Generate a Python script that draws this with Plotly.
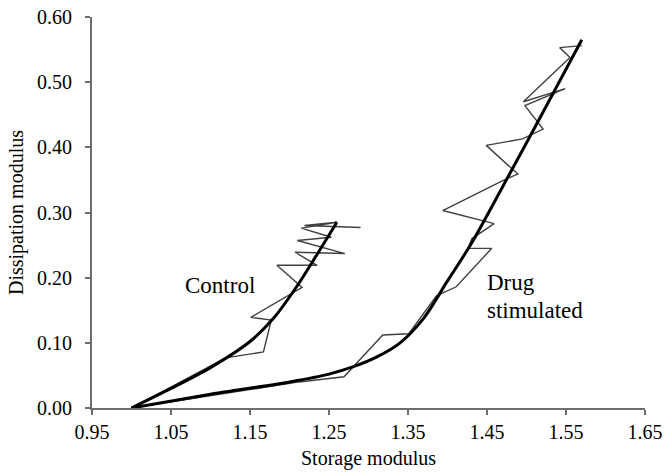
import plotly.graph_objects as go

# Control: raw measurements (thin) and fitted trend (thick)
control_x = [1.00, 1.119, 1.167, 1.177, 1.151, 1.199, 1.216, 1.184, 1.235, 1.207, 1.270, 1.210, 1.253, 1.215, 1.260, 1.219, 1.290]
control_y = [0.000, 0.077, 0.086, 0.135, 0.139, 0.172, 0.185, 0.219, 0.219, 0.239, 0.237, 0.257, 0.262, 0.276, 0.285, 0.280, 0.277]
control_fit_x = [1.00, 1.05, 1.10, 1.15, 1.18, 1.21, 1.235, 1.26]
control_fit_y = [0.000, 0.030, 0.062, 0.102, 0.138, 0.188, 0.236, 0.285]

# Drug stimulated: raw measurements (thin) and fitted trend (thick)
drug_x = [1.00, 1.212, 1.269, 1.318, 1.351, 1.364, 1.386, 1.411, 1.456, 1.426, 1.431, 1.459, 1.443, 1.394, 1.470, 1.489, 1.449, 1.495, 1.521, 1.498, 1.549, 1.496, 1.555, 1.542, 1.570]
drug_y = [0.000, 0.040, 0.048, 0.112, 0.114, 0.135, 0.172, 0.186, 0.245, 0.245, 0.260, 0.283, 0.288, 0.303, 0.349, 0.359, 0.403, 0.413, 0.428, 0.464, 0.490, 0.470, 0.538, 0.553, 0.556]
drug_fit_x = [1.00, 1.10, 1.20, 1.25, 1.28, 1.31, 1.34, 1.37, 1.40, 1.43, 1.47, 1.52, 1.57]
drug_fit_y = [0.000, 0.021, 0.040, 0.052, 0.063, 0.078, 0.100, 0.138, 0.195, 0.252, 0.340, 0.452, 0.565]

x_ticks = [0.95, 1.05, 1.15, 1.25, 1.35, 1.45, 1.55, 1.65]
y_ticks = [0.0, 0.1, 0.2, 0.3, 0.4, 0.5, 0.6]

FONT = "Liberation Serif, Times New Roman, serif"

fig = go.Figure()
fig.add_trace(go.Scatter(x=control_x, y=control_y, mode="lines",
                         line=dict(color="#404040", width=1.4), showlegend=False))
fig.add_trace(go.Scatter(x=drug_x, y=drug_y, mode="lines",
                         line=dict(color="#404040", width=1.4), showlegend=False))
fig.add_trace(go.Scatter(x=control_fit_x, y=control_fit_y, mode="lines",
                         line=dict(color="#000000", width=3, shape="spline", smoothing=0.8),
                         showlegend=False))
fig.add_trace(go.Scatter(x=drug_fit_x, y=drug_fit_y, mode="lines",
                         line=dict(color="#000000", width=3, shape="spline", smoothing=0.8),
                         showlegend=False))

fig.add_annotation(x=1.1126, y=0.188, text="Control", showarrow=False,
                   xanchor="center", yanchor="middle", font=dict(family=FONT, size=23, color="#000"))
fig.add_annotation(x=1.447, y=0.193, text="Drug", showarrow=False,
                   xanchor="left", yanchor="middle", font=dict(family=FONT, size=23, color="#000"))
fig.add_annotation(x=1.447, y=0.150, text="stimulated", showarrow=False,
                   xanchor="left", yanchor="middle", font=dict(family=FONT, size=23, color="#000"))

fig.update_layout(
    width=665, height=476,
    margin=dict(l=92, r=20, t=17, b=68),
    paper_bgcolor="white", plot_bgcolor="white",
    font=dict(family=FONT, size=20, color="#000"),
    xaxis=dict(range=[0.95, 1.65], tickvals=x_ticks, ticktext=[f"{v:.2f}" for v in x_ticks],
               showgrid=False, zeroline=False, showline=True, linecolor="#6e6e6e", linewidth=2,
               ticks="outside", ticklen=5, tickcolor="#6e6e6e", tickwidth=1.5, automargin=False,
               ticklabeloverflow="allow",
               title=dict(text="Storage modulus", font=dict(family=FONT, size=20), standoff=9),
               tickfont=dict(family=FONT, size=20)),
    yaxis=dict(range=[0, 0.6], tickvals=y_ticks, ticktext=[f"{v:.2f}" for v in y_ticks],
               showgrid=False, zeroline=False, showline=True, linecolor="#6e6e6e", linewidth=2,
               ticks="outside", ticklen=5, tickcolor="#6e6e6e", tickwidth=1.5, automargin=False,
               ticklabelstandoff=9, ticklabeloverflow="allow",
               title=dict(text="Dissipation modulus", font=dict(family=FONT, size=20), standoff=8),
               tickfont=dict(family=FONT, size=20)),
)

# remove the default 8px page margin so the 665x476 figure fills the window exactly
fig.write_html("out.html",
               config={"displayModeBar": False},
               post_script="document.body.style.margin='0';document.body.style.overflow='hidden';")
